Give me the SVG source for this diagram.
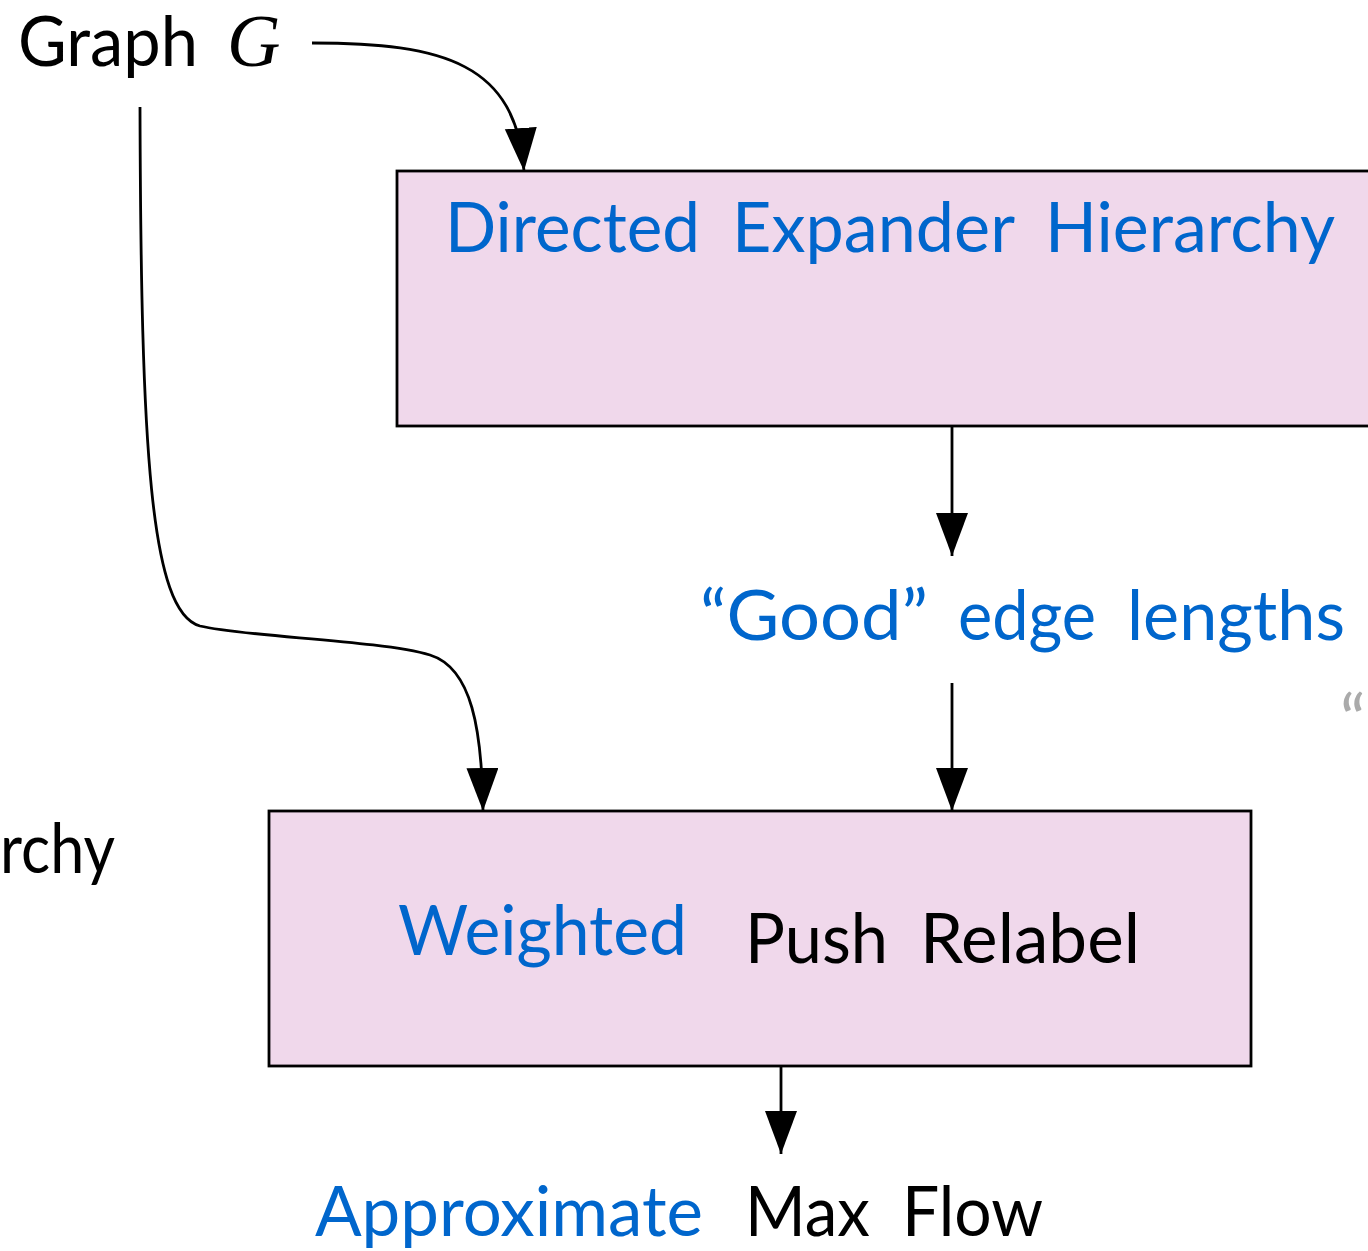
<svg xmlns="http://www.w3.org/2000/svg" width="1368" height="1251" viewBox="0 0 1368 1251">
  <style>
    .box { fill: #f0d8eb; stroke: #000; stroke-width: 2.8; }
    .lbl { font-family: Lato, "Liberation Sans", sans-serif; font-size: 70px; }
    .blue { fill: #0066cc; }
    .dark { fill: #000; }
    .wire { fill: none; stroke: #000; stroke-width: 2.8; }
    .math { font-family: "Liberation Serif", serif; font-style: italic; font-size: 74px; fill: #000; }
  </style>
  <defs>
    <marker id="tip" markerUnits="userSpaceOnUse" markerWidth="46" markerHeight="34" refX="43" refY="16" orient="auto">
      <path d="M0,0 L43,16 L0,32 Z" fill="#000"/>
    </marker>
  </defs>

  <rect width="1368" height="1251" fill="#fff"/>

  <!-- input label -->
  <g id="graph-input">
    <text class="lbl dark" x="18" y="66" textLength="180" lengthAdjust="spacingAndGlyphs">Graph</text>
    <text class="math" x="227" y="66">G</text>
  </g>

  <!-- partial label cut at the left edge -->
  <g id="left-label">
    <text class="lbl dark" x="0" y="873" textLength="115" lengthAdjust="spacingAndGlyphs">rchy</text>
  </g>

  <!-- partial quote cut at the right edge -->
  <g id="right-quote">
    <text class="lbl" x="1340" y="745" fill="#aaaaaa">“</text>
  </g>

  <!-- hierarchy box -->
  <g id="expander-hierarchy">
    <rect class="box" x="397" y="171" width="1010" height="255"/>
    <text class="lbl blue" x="445" y="252" textLength="255" lengthAdjust="spacingAndGlyphs">Directed</text>
    <text class="lbl blue" x="732" y="252" textLength="283" lengthAdjust="spacingAndGlyphs">Expander</text>
    <text class="lbl blue" x="1045" y="252" textLength="290" lengthAdjust="spacingAndGlyphs">Hierarchy</text>
  </g>

  <!-- edge lengths label -->
  <g id="edge-lengths">
    <text class="lbl blue" x="700" y="640" textLength="228" lengthAdjust="spacingAndGlyphs">“Good”</text>
    <text class="lbl blue" x="958" y="640" textLength="138" lengthAdjust="spacingAndGlyphs">edge</text>
    <text class="lbl blue" x="1127" y="640" textLength="218" lengthAdjust="spacingAndGlyphs">lengths</text>
  </g>

  <!-- push relabel box -->
  <g id="push-relabel">
    <rect class="box" x="269" y="811" width="982" height="255"/>
    <text class="lbl blue" x="398" y="955" textLength="289" lengthAdjust="spacingAndGlyphs">Weighted</text>
    <text class="lbl dark" x="745" y="963" textLength="143" lengthAdjust="spacingAndGlyphs">Push</text>
    <text class="lbl dark" x="920" y="963" textLength="220" lengthAdjust="spacingAndGlyphs">Relabel</text>
  </g>

  <!-- output label -->
  <g id="max-flow">
    <text class="lbl blue" x="315" y="1236" textLength="388" lengthAdjust="spacingAndGlyphs">Approximate</text>
    <text class="lbl dark" x="745" y="1236" textLength="125" lengthAdjust="spacingAndGlyphs">Max</text>
    <text class="lbl dark" x="902" y="1236" textLength="141" lengthAdjust="spacingAndGlyphs">Flow</text>
  </g>

  <!-- connectors -->
  <g id="connectors">
    <path class="wire" d="M312,43 C445,43 516,64 524,171" marker-end="url(#tip)"/>
    <path class="wire" d="M140,107 C141,450 150,612 200,626 C245,637 380,640 430,655 C472,668 482,730 483,811" marker-end="url(#tip)"/>
    <path class="wire" d="M952,426 L952,556" marker-end="url(#tip)"/>
    <path class="wire" d="M952,683 L952,811" marker-end="url(#tip)"/>
    <path class="wire" d="M781,1066 L781,1154" marker-end="url(#tip)"/>
  </g>
</svg>
